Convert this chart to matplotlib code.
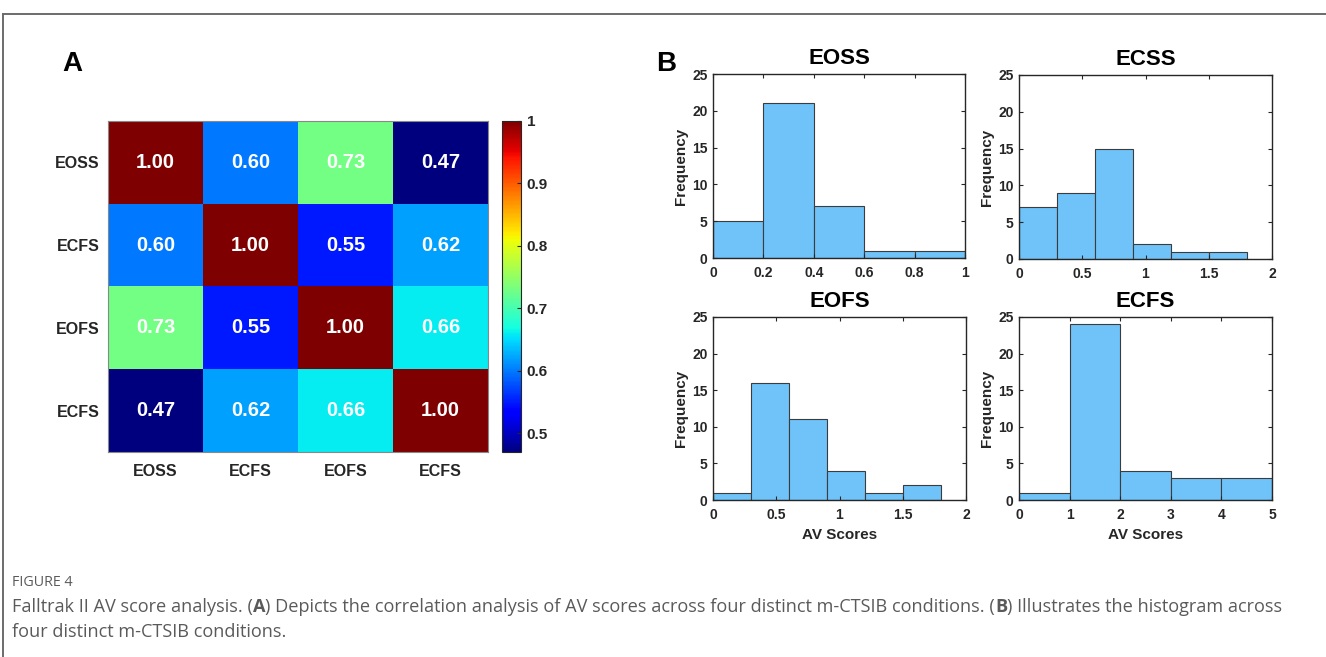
import numpy as np
import matplotlib
matplotlib.use("Agg")
import matplotlib.pyplot as plt
from matplotlib.lines import Line2D

W, H = 1326, 657

# --- data ---
cond_labels = ["EOSS", "ECFS", "EOFS", "ECFS"]
corr = np.array([
    [1.00, 0.60, 0.73, 0.47],
    [0.60, 1.00, 0.55, 0.62],
    [0.73, 0.55, 1.00, 0.66],
    [0.47, 0.62, 0.66, 1.00],
])

hist_titles = ["EOSS", "ECSS", "EOFS", "ECFS"]
eoss_edges = [0, 0.2, 0.4, 0.6, 0.8, 1.0]
eoss_counts = [5, 21, 7, 1, 1]
ecss_edges = [0, 0.3, 0.6, 0.9, 1.2, 1.5, 1.8]
ecss_counts = [7, 9, 15, 2, 1, 1]
eofs_edges = [0, 0.3, 0.6, 0.9, 1.2, 1.5, 1.8]
eofs_counts = [1, 16, 11, 4, 1, 2]
ecfs_edges = [0, 1, 2, 3, 4, 5]
ecfs_counts = [1, 24, 4, 3, 3]
hist_xlims = [(0, 1), (0, 2), (0, 2), (0, 5)]
hist_xticks = [[0, 0.2, 0.4, 0.6, 0.8, 1], [0, 0.5, 1, 1.5, 2],
               [0, 0.5, 1, 1.5, 2], [0, 1, 2, 3, 4, 5]]
hist_xticklabels = [["0", "0.2", "0.4", "0.6", "0.8", "1"],
                    ["0", "0.5", "1", "1.5", "2"],
                    ["0", "0.5", "1", "1.5", "2"],
                    ["0", "1", "2", "3", "4", "5"]]

plt.rcParams['font.family'] = ['Liberation Sans', 'DejaVu Sans']

fig = plt.figure(figsize=(W / 100, H / 100), dpi=100)


def px_axes(l, t, r, b):
    # axes from pixel box (left, top, right, bottom)
    return fig.add_axes([l / W, 1 - b / H, (r - l) / W, (b - t) / H])


# frame around the figure
fig.add_artist(Line2D([3 / W, 1], [1 - 13.5 / H, 1 - 13.5 / H], color="#6b6b6b", lw=1.4))
fig.add_artist(Line2D([3 / W, 3 / W], [0, 1 - 13.5 / H], color="#6b6b6b", lw=1.4))

# --- panel A: correlation heatmap ---
ax = px_axes(108, 121, 488, 452)
im = ax.imshow(corr, cmap="jet", vmin=0.47, vmax=1.0, aspect="auto")
for i in range(corr.shape[0]):
    for j in range(corr.shape[1]):
        ax.text(j, i, f"{corr[i, j]:.2f}", ha="center", va="center",
                color="white", fontsize=14.5, fontweight="bold")
ax.set_xticks(range(4))
ax.set_xticklabels(cond_labels)
ax.set_yticks(range(4))
ax.set_yticklabels(cond_labels)
ax.tick_params(axis="x", length=0, labelsize=11.5, pad=9, labelcolor="#262626")
ax.tick_params(axis="y", length=0, labelsize=11.5, pad=6, labelcolor="#262626")
for lab in ax.get_xticklabels() + ax.get_yticklabels():
    lab.set_fontweight("bold")
for sp in ax.spines.values():
    sp.set_color("#888888")
    sp.set_linewidth(0.8)

cax = px_axes(502, 121, 521, 452)
cb = fig.colorbar(im, cax=cax, ticks=[0.5, 0.6, 0.7, 0.8, 0.9, 1.0])
cb.ax.set_yticklabels(["0.5", "0.6", "0.7", "0.8", "0.9", "1"])
cb.ax.tick_params(direction="in", length=3, width=0.8, labelsize=11,
                  labelcolor="#262626", color="#262626", pad=4)
for lab in cb.ax.get_yticklabels():
    lab.set_fontweight("bold")
cb.outline.set_edgecolor("#262626")
cb.outline.set_linewidth(0.8)

fig.text(62 / W, 1 - 64 / H, "A", fontsize=20, fontweight="bold", va="center", ha="left")
fig.text(656 / W, 1 - 64 / H, "B", fontsize=20, fontweight="bold", va="center", ha="left")

# --- panel B: histograms ---
boxes = [(713, 74, 965, 258), (1019, 75, 1272, 259),
         (713, 317, 966, 500), (1019, 317, 1272, 500)]
edges_all = [eoss_edges, ecss_edges, eofs_edges, ecfs_edges]
counts_all = [eoss_counts, ecss_counts, eofs_counts, ecfs_counts]

for k in range(4):
    hx = px_axes(*boxes[k])
    e = np.array(edges_all[k])
    centers = (e[:-1] + e[1:]) / 2
    hx.hist(centers, bins=e, weights=counts_all[k], color="#6fc3f9",
            edgecolor="#3c3c3c", linewidth=0.8)
    hx.set_xlim(*hist_xlims[k])
    hx.set_ylim(0, 25)
    hx.set_yticks([0, 5, 10, 15, 20, 25])
    hx.set_xticks(hist_xticks[k])
    hx.set_xticklabels(hist_xticklabels[k])
    hx.tick_params(direction="in", top=True, right=True, length=3, width=0.8,
                   labelsize=10, labelcolor="#262626", color="#262626", pad=4)
    hx.tick_params(axis="x", pad=6)
    for lab in hx.get_xticklabels() + hx.get_yticklabels():
        lab.set_fontweight("bold")
    for sp in hx.spines.values():
        sp.set_color("#262626")
        sp.set_linewidth(1.0)
    hx.set_title(hist_titles[k], fontsize=16, fontweight="bold", pad=7)
    hx.set_ylabel("Frequency", fontsize=11, fontweight="bold", color="#262626", labelpad=3)
    if k >= 2:
        hx.set_xlabel("AV Scores", fontsize=11, fontweight="bold", color="#262626", labelpad=4)

# --- caption ---
fig.canvas.draw()
renderer = fig.canvas.get_renderer()


def rich_line(x_px, y_px, runs, size, color):
    x = x_px
    for txt, weight in runs:
        t = fig.text(x / W, 1 - y_px / H, txt, fontsize=size, fontweight=weight,
                     color=color, family=["Open Sans", "DejaVu Sans"], va="baseline")
        bb = t.get_window_extent(renderer)
        x = bb.x1


cap_color = "#5a5a5a"
rich_line(12, 586, [("FIGURE 4", "normal")], 10.3, cap_color)
rich_line(12, 612, [("Falltrak II AV score analysis. (", "normal"), ("A", "bold"),
                    (") Depicts the correlation analysis of AV scores across four distinct m-CTSIB conditions. (", "normal"),
                    ("B", "bold"), (") Illustrates the histogram across", "normal")], 13.1, cap_color)
rich_line(12, 637, [("four distinct m-CTSIB conditions.", "normal")], 13.1, cap_color)

fig.savefig("out.png", dpi=100)
